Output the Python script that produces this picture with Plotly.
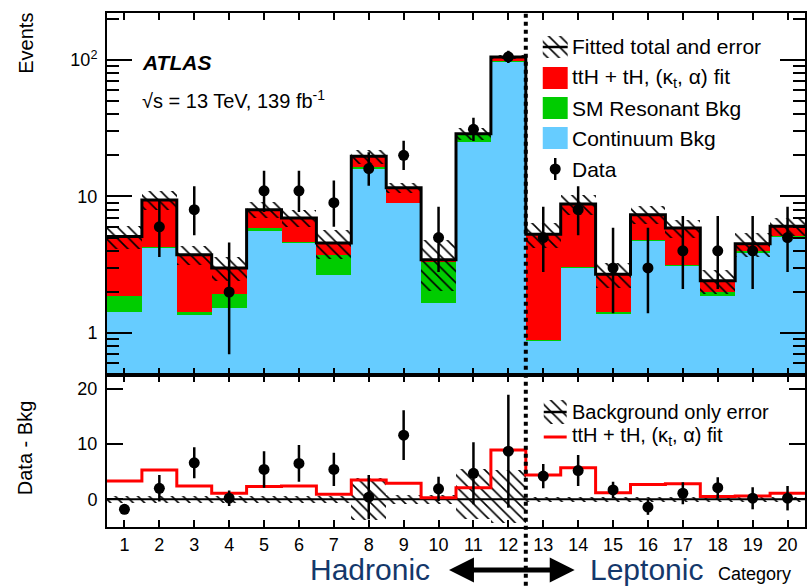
import plotly.graph_objects as go

# ---------------- data ----------------
categories = list(range(1, 21))
tick_labels = [str(c) for c in categories]

# top panel (Events, stacked)
continuum = [1.44, 4.2, 1.36, 1.54, 5.63, 4.56, 2.68, 16.0, 8.9, 1.66,
             25.1, 96.5, 0.87, 3.0, 1.38, 4.74, 3.08, 1.87, 3.86, 5.02]
resonant = [0.42, 0.1, 0.06, 0.39, 0.25, 0.08, 1.07, 0.3, 0.08, 1.64,
            3.0, 1.0, 0.02, 0.03, 0.05, 0.06, 0.08, 0.12, 0.1, 0.08]
signal = [3.24, 5.13, 2.33, 1.07, 2.12, 2.32, 0.81, 3.4, 2.62, 0.14,
          0.7, 7.2, 4.41, 5.77, 1.27, 2.56, 2.71, 0.43, 0.55, 0.96]
total_err = [1.0, 1.5, 0.6, 0.6, 1.1, 1.0, 1.1, 2.3, 1.0, 1.4,
             3.0, 3.0, 1.1, 1.5, 0.55, 1.1, 0.9, 0.5, 0.9, 0.9]
data = [0, 6, 8, 2, 11, 11, 9, 16, 20, 5, 31, 105, 5, 8, 3, 3, 4, 4, 4, 5]
data_err_up = [0, 3.6, 3.9, 2.6, 4.4, 4.4, 4.1, 5.1, 5.6, 3.4,
               6.6, 11.3, 3.4, 3.9, 2.9, 2.9, 3.2, 3.2, 3.2, 3.4]
data_err_dn = [0, 2.4, 2.8, 1.3, 3.3, 3.3, 3.0, 4.0, 4.4, 2.2,
               5.5, 10.2, 2.2, 2.8, 1.6, 1.6, 1.9, 1.9, 1.9, 2.2]

# bottom panel (Data - Bkg)
data_minus_bkg = [-1.8, 2.0, 6.6, 0.2, 5.4, 6.5, 5.4, 0.4, 11.6, 1.9,
                  4.7, 8.7, 4.2, 5.2, 1.7, -1.4, 1.1, 2.1, 0.2, 0.2]
dmb_err = [0, 2.4, 2.8, 1.4, 3.3, 3.3, 3.0, 4.0, 4.5, 2.2,
           5.6, 10.2, 2.2, 2.8, 1.5, 1.4, 2.0, 1.9, 2.0, 2.2]
fit_minus_bkg = [3.3, 5.3, 2.4, 1.1, 2.3, 2.4, 0.9, 3.5, 2.9, 0.3,
                 2.1, 8.9, 4.4, 5.7, 1.2, 2.7, 2.8, 0.5, 0.6, 1.1]
bkg_err_up = [0.7, 0.7, 0.7, 0.7, 0.7, 0.7, 0.7, 3.8, 0.8, 0.9,
              5.6, 5.3, 0.5, 0.5, 0.5, 0.5, 0.5, 0.5, 0.5, 0.5]
bkg_err_dn = [0.7, 0.7, 0.7, 0.7, 0.7, 0.7, 0.7, 3.7, 0.8, 0.9,
              3.5, 4.3, 0.5, 0.5, 0.5, 0.5, 0.5, 0.5, 0.5, 0.5]

# ---------------- styling ----------------
FONT = "Liberation Sans, Arial, Helvetica, sans-serif"
RED = "#ff0000"
GREEN = "#00cc00"
BLUE = "#66ccff"
NAVY = "#14386b"

# layout geometry (pixels)
W, H = 808, 586
ML, MR, MT, MB = 107, 1, 13, 59
PW, PH = W - ML - MR, H - MT - MB
SPLIT = 0.296


def px(x):
    return (x - ML) / PW


def py(y):
    return (H - MB - y) / PH


bkg_top = [c + r for c, r in zip(continuum, resonant)]
total = [b + s for b, s in zip(bkg_top, signal)]
edges = [c - 0.5 for c in categories] + [categories[-1] + 0.5]

hatch = dict(shape="\\", fgcolor="black", bgcolor="rgba(0,0,0,0)",
             size=8, solidity=0.2, fillmode="replace")

fig = go.Figure()

# ---- top panel ----
fig.add_trace(go.Bar(x=categories, y=total, width=1, marker=dict(color=RED, line=dict(width=0)),
                     opacity=1, xaxis="x", yaxis="y", showlegend=False))
fig.add_trace(go.Bar(x=categories, y=bkg_top, width=1, marker=dict(color=GREEN, line=dict(width=0)),
                     opacity=1, xaxis="x", yaxis="y", showlegend=False))
fig.add_trace(go.Bar(x=categories, y=continuum, width=1, marker=dict(color=BLUE, line=dict(width=0)),
                     opacity=1, xaxis="x", yaxis="y", showlegend=False))
fig.add_trace(go.Bar(x=categories, y=[2 * e for e in total_err],
                     base=[t - e for t, e in zip(total, total_err)], width=1,
                     marker=dict(color="rgba(0,0,0,0)", line=dict(width=0), pattern=hatch),
                     opacity=1, xaxis="x", yaxis="y", showlegend=False))
fig.add_trace(go.Scatter(x=edges, y=total + [total[-1]], mode="lines", line_shape="hv",
                         line=dict(color="black", width=3), xaxis="x", yaxis="y", showlegend=False))
fig.add_trace(go.Scatter(x=categories, y=data, mode="markers",
                         marker=dict(color="black", size=11),
                         error_y=dict(type="data", symmetric=False, array=data_err_up,
                                      arrayminus=data_err_dn, color="black", thickness=2.5, width=0),
                         xaxis="x", yaxis="y", showlegend=False))

# ---- bottom panel ----
fig.add_trace(go.Bar(x=categories, y=[u + d for u, d in zip(bkg_err_up, bkg_err_dn)],
                     base=[-d for d in bkg_err_dn], width=1,
                     marker=dict(color="rgba(0,0,0,0)", line=dict(width=0), pattern=hatch),
                     opacity=1, xaxis="x2", yaxis="y2", showlegend=False))
fig.add_trace(go.Scatter(x=[edges[0], edges[-1]], y=[0, 0], mode="lines",
                         line=dict(color="black", width=2), xaxis="x2", yaxis="y2", showlegend=False))
fig.add_trace(go.Scatter(x=edges, y=fit_minus_bkg + [fit_minus_bkg[-1]], mode="lines", line_shape="hv",
                         line=dict(color=RED, width=3), xaxis="x2", yaxis="y2", showlegend=False))
fig.add_trace(go.Scatter(x=categories, y=data_minus_bkg, mode="markers",
                         marker=dict(color="black", size=11),
                         error_y=dict(type="data", array=dmb_err, color="black", thickness=2.5, width=0),
                         xaxis="x2", yaxis="y2", showlegend=False))

# ---- legend symbols with hatch (pixel overlay axes) ----
for (x0, x1, y0, y1, ym) in [(544, 569, 36, 58, 47), (545, 568, 400, 424, 412)]:
    fig.add_trace(go.Scatter(x=[x0, x1, x1, x0, x0], y=[y0, y0, y1, y1, y0], mode="lines",
                             fill="toself", fillcolor="rgba(0,0,0,0)", fillpattern=hatch,
                             line=dict(width=0, color="rgba(0,0,0,0)"),
                             xaxis="x3", yaxis="y3", showlegend=False, hoverinfo="skip"))
    fig.add_trace(go.Scatter(x=[x0, x1], y=[ym, ym], mode="lines", line=dict(color="black", width=2.5),
                             xaxis="x3", yaxis="y3", showlegend=False, hoverinfo="skip"))
fig.add_trace(go.Scatter(x=[545, 568], y=[437, 437], mode="lines", line=dict(color=RED, width=3),
                         xaxis="x3", yaxis="y3", showlegend=False, hoverinfo="skip"))
fig.add_trace(go.Scatter(x=[556.5], y=[169], mode="markers", marker=dict(color="black", size=11),
                         error_y=dict(type="data", array=[11], color="black", thickness=2.5, width=0),
                         xaxis="x3", yaxis="y3", showlegend=False, hoverinfo="skip"))

shapes = []
for (y0, y1, col) in [(67, 89, RED), (97, 119, GREEN), (127, 149, BLUE)]:
    shapes.append(dict(type="rect", xref="paper", yref="paper", x0=px(544), x1=px(569),
                       y0=py(y1), y1=py(y0), fillcolor=col, line=dict(width=0), layer="above"))

# vertical dotted separator
shapes.append(dict(type="line", xref="x", yref="paper", x0=12.5, x1=12.5, y0=-0.13, y1=1,
                   line=dict(color="black", width=4, dash="4px,4px"), layer="above"))

# double arrow
ax0, ax1, ay, hl, hh, sh = 450, 576, 570, 25, 12.5, 2.5
pts = [(ax0, ay), (ax0 + hl, ay - hh), (ax0 + hl, ay - sh), (ax1 - hl, ay - sh), (ax1 - hl, ay - hh),
       (ax1, ay), (ax1 - hl, ay + hh), (ax1 - hl, ay + sh), (ax0 + hl, ay + sh), (ax0 + hl, ay + hh)]
path = "M " + " L ".join(f"{px(a):.5f},{py(b):.5f}" for a, b in pts) + " Z"
shapes.append(dict(type="path", xref="paper", yref="paper", path=path, fillcolor="black",
                   line=dict(width=0), layer="above"))

annotations = []


def text(x, y, t, size, xanchor="left", yanchor="middle", color="black", angle=0, **kw):
    annotations.append(dict(x=px(x), y=py(y), xref="paper", yref="paper", text=t, showarrow=False,
                            xanchor=xanchor, yanchor=yanchor, textangle=angle, borderpad=0,
                            font=dict(family=FONT, size=size, color=color), **kw))


text(141, 62, "<b><i>ATLAS</i></b>", 21)
text(141, 100, "√s = 13 TeV, 139 fb<sup>-1</sup>", 20)
text(572, 47, "Fitted total and error", 21)
text(572, 78, "ttH + tH, (κ<sub>t</sub>, α) fit", 21)
text(572, 108, "SM Resonant Bkg", 21)
text(572, 138, "Continuum Bkg", 21)
text(572, 169, "Data", 21)
text(572, 412, "Background only error", 20)
text(572, 436, "ttH + tH, (κ<sub>t</sub>, α) fit", 20)
text(25, 12, "Events", 20, xanchor="center", yanchor="top", angle=-90)
text(25, 448, "Data - Bkg", 20, xanchor="center", yanchor="middle", angle=-90)
text(371, 569, "Hadronic", 30, xanchor="center", color=NAVY)
text(648, 569, "Leptonic", 30, xanchor="center", color=NAVY)
text(756, 574, "Category", 18, xanchor="center")

axis_common = dict(showline=True, linecolor="black", linewidth=2, mirror="ticks",
                   ticks="inside", tickcolor="black", showgrid=False, zeroline=False,
                   tickfont=dict(family=FONT, size=18, color="black"))

minor_vals = [0.5, 0.6, 0.7, 0.8, 0.9] + list(range(2, 10)) + list(range(20, 100, 10)) + [200]

fig.update_layout(
    width=W, height=H,
    margin=dict(l=ML, r=MR, t=MT, b=MB),
    paper_bgcolor="white", plot_bgcolor="rgba(0,0,0,0)",
    barmode="overlay", bargap=0,
    xaxis=dict(domain=[0, 1], anchor="y", range=[0.5, 20.5], tickvals=categories,
               showticklabels=False, ticklen=7, tickwidth=1.5, **axis_common),
    yaxis=dict(domain=[SPLIT, 1], anchor="x", type="log", range=[-0.305, 2.342],
               tickvals=[1, 10, 100], ticktext=["1", "10", "10<sup>2</sup>"],
               ticklen=25, tickwidth=1.5, ticklabelstandoff=4,
               minor=dict(ticks="inside", ticklen=12, tickvals=minor_vals, tickcolor="black", tickwidth=1.5),
               **axis_common),
    xaxis2=dict(domain=[0, 1], anchor="y2", range=[0.5, 20.5], tickvals=categories,
                ticktext=tick_labels, ticklen=7, tickwidth=1.5, **axis_common),
    yaxis2=dict(domain=[0, SPLIT], anchor="x2", range=[-5, 22.5], tickvals=[0, 10, 20],
                ticklen=16, tickwidth=1.5, ticklabelstandoff=4, **axis_common),
    xaxis3=dict(domain=[0, 1], anchor="y3", range=[ML, W - MR], visible=False, fixedrange=True),
    yaxis3=dict(domain=[0, 1], anchor="x3", range=[H - MB, MT], visible=False, fixedrange=True),
    shapes=shapes, annotations=annotations,
)

fig.write_html("out.html", config={"displayModeBar": False},
               post_script="document.body.style.margin='0px';document.body.style.padding='0px';")
